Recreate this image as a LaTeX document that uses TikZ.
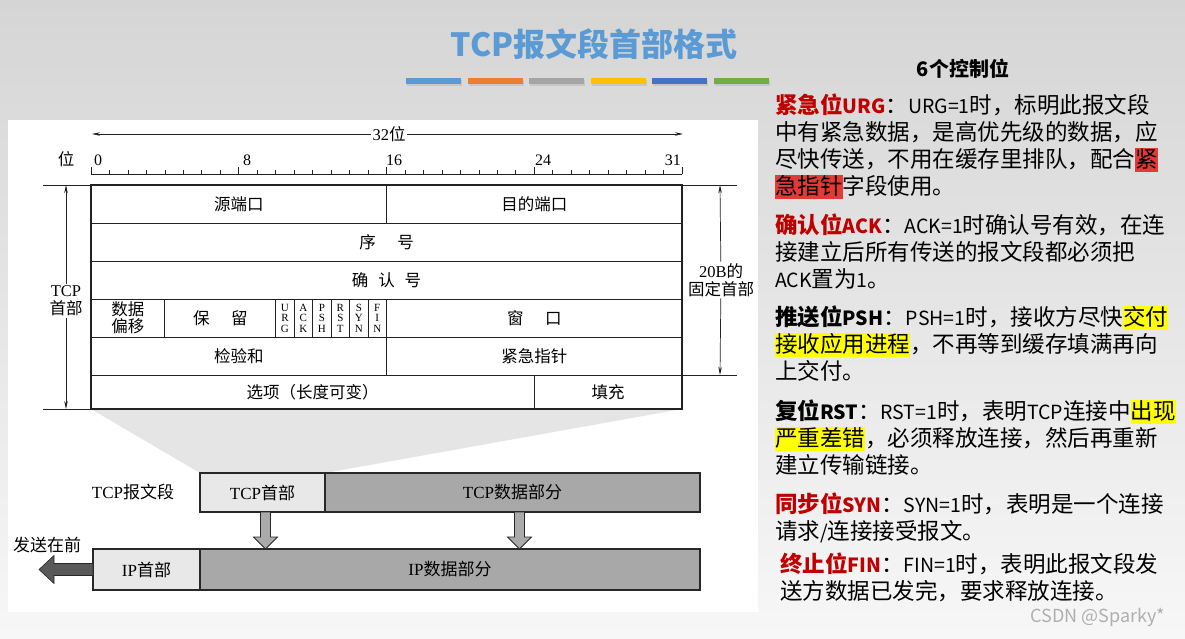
\documentclass[tikz,border=0pt]{standalone}
\usepackage{fontspec}
\setmainfont{Noto Sans CJK SC}
\newfontfamily\tms{Liberation Serif}
\usetikzlibrary{positioning, arrows.meta, calc}

\definecolor{bgtop}{RGB}{213,213,213}
\definecolor{bgbot}{RGB}{247,247,247}
\definecolor{titleblue}{RGB}{91,155,213}
\definecolor{bar1}{RGB}{91,155,213}
\definecolor{bar2}{RGB}{237,125,49}
\definecolor{bar3}{RGB}{165,165,165}
\definecolor{bar4}{RGB}{255,192,0}
\definecolor{bar5}{RGB}{68,114,196}
\definecolor{bar6}{RGB}{112,173,71}
\definecolor{tblline}{RGB}{34,34,34}
\definecolor{boxline}{RGB}{40,40,40}
\definecolor{hdrfill}{RGB}{232,232,232}
\definecolor{datafill}{RGB}{168,168,168}
\definecolor{zoomgray}{RGB}{229,229,229}
\definecolor{arrfill}{RGB}{170,170,170}
\definecolor{sendfill}{RGB}{89,89,89}
\definecolor{hdred}{RGB}{192,0,0}
\definecolor{hlredc}{RGB}{229,57,53}
\definecolor{hlyelc}{RGB}{255,255,0}
\definecolor{wmgray}{RGB}{175,175,175}

\def\bitw{18.47}
\newcommand\la[1]{{\fontsize{19.5}{27}\selectfont #1}}
\newcommand\redhd[1]{\textbf{\textcolor{hdred}{#1}}}
\newcommand\blkhd[1]{\textbf{#1}}
\newcommand\hlred[1]{{\setlength\fboxsep{0pt}\colorbox{hlredc}{\rule[-4.5pt]{0pt}{24pt}#1}}}
\newcommand\hlyel[1]{{\setlength\fboxsep{0pt}\colorbox{hlyelc}{\rule[-4.5pt]{0pt}{24pt}#1}}}

\begin{document}
\begin{tikzpicture}[x=1pt, y=-1pt,
  >={Stealth[length=8pt, width=3.5pt]},
  cell/.style={draw=tblline, line width=0.9pt, inner sep=0pt, outer sep=0pt,
               anchor=north west, minimum height=38pt, align=center,
               font=\fontsize{16.5}{17}\selectfont},
  flagcell/.style={cell, minimum width=\bitw pt, font=\tms\fontsize{11}{10.5}\selectfont},
  rnum/.style={anchor=base west, inner sep=0pt, font=\tms\fontsize{16}{16}\selectfont},
  dimlbl/.style={fill=white, inner sep=1.5pt, align=center,
                 font=\fontsize{16.5}{18}\selectfont},
  dimline/.style={->, line width=0.7pt, draw=tblline},
  extline/.style={line width=0.7pt, draw=tblline},
  pktbox/.style={draw=boxline, line width=1.4pt, inner sep=0pt, outer sep=0pt,
                 minimum height=39pt, font=\fontsize{17}{18}\selectfont},
  blockarr/.style={fill=arrfill, draw=boxline, line width=0.8pt},
  sendarr/.style={fill=sendfill, draw=boxline, line width=0.6pt},
  para/.style={anchor=north west, inner sep=0pt, align=left,
               font=\fontsize{22.5}{27}\selectfont},
]
\useasboundingbox (0,0) rectangle (1185,638);
% ---- background, panel, title ----
\shade[top color=bgtop, bottom color=bgbot] (0,0) rectangle (1185,638);
\fill[white] (8,120) rectangle (758,612);
\fill[zoomgray] (91,409) -- (682,409) -- (325,473) -- (200,473) -- cycle;
\node[text=titleblue, font=\fontsize{32}{36}\selectfont\bfseries] (title) at (594,44) {TCP报文段首部格式};
\foreach \c [count=\i from 0] in {bar1,bar2,bar3,bar4,bar5,bar6} {
  \fill[black!22] ({407+\i*61.6},79.5) rectangle ++(55,6);
  \fill[\c] ({406+\i*61.6},78) rectangle ++(55,6);
}
% ---- bit ruler ----
\node[dimlbl] (lenlbl) at (389,134) {{\tms 32}位};
\coordinate (lenl) at (92,134);
\coordinate (lenr) at (683,134);
\draw[dimline] (lenlbl) -- (lenl);
\draw[dimline] (lenlbl) -- (lenr);
\node[inner sep=0pt, font=\fontsize{16.5}{18}\selectfont] (bitlbl) at (66,159) {位};
\draw[extline] (91,174) -- (682,174);
\foreach \i in {0,...,32} \draw[extline] ({91+\i*\bitw},174) -- ++(0,-4);
\foreach \i in {0,8,16,24,32} \draw[extline] ({91+\i*\bitw},174) -- ++(0,-7);
\node[rnum] (b0) at (94,165) {0};
\node[rnum] (b8) at (243,165) {8};
\node[rnum] (b16) at (386,165) {16};
\node[rnum] (b24) at (535,165) {24};
\node[rnum, anchor=base east] (b31) at (681,165) {31};
% ---- header fields ----
\node[cell, minimum width=16*\bitw pt] (srcport) at (91,185) {源端口};
\node[cell, minimum width=16*\bitw pt, right=0pt of srcport] (dstport) {目的端口};
\node[cell, minimum width=32*\bitw pt] (seqno) at (91,223) {序\hspace{1.3em}号};
\node[cell, minimum width=32*\bitw pt] (ackno) at (91,261) {确\hspace{0.6em}认\hspace{0.6em}号};
\node[cell, minimum width=4*\bitw pt] (offset) at (91,299) {数据\\偏移};
\node[cell, minimum width=6*\bitw pt, right=0pt of offset] (rsv) {保\hspace{1.3em}留};
\foreach \f [count=\i] in {{U\\R\\G},{A\\C\\K},{P\\S\\H},{R\\S\\T},{S\\Y\\N},{F\\I\\N}}
  \node[flagcell] (flag\i) at ({91+(9+\i)*\bitw},299) {\f};
\node[cell, minimum width=16*\bitw pt, right=0pt of flag6] (window) {窗\hspace{1.3em}口};
\node[cell, minimum width=16*\bitw pt] (cksum) at (91,337) {检验和};
\node[cell, minimum width=16*\bitw pt, right=0pt of cksum] (urgptr) {紧急指针};
\node[cell, minimum width=24*\bitw pt, minimum height=34pt] (opts) at (91,375) {选项（长度可变）};
\node[cell, minimum width=8*\bitw pt, minimum height=34pt, right=0pt of opts] (pad) {填充};
\draw[line width=1.5pt, draw=tblline] (srcport.north west) rectangle (pad.south east);
% ---- size marks ----
\draw[extline] (srcport.north west) -- ++(-48,0);
\draw[extline] (opts.south west) -- ++(-48,0);
\node[dimlbl] (hdrlbl) at (66,301) {{\tms TCP}\\首部};
\coordinate (hdrt) at (66,185);
\coordinate (hdrb) at (66,409);
\draw[dimline] (hdrlbl) -- (hdrt);
\draw[dimline] (hdrlbl) -- (hdrb);
\draw[extline] (dstport.north east) -- ++(55,0);
\draw[extline] (urgptr.south east) -- ++(55,0);
\node[dimlbl] (fixlbl) at (721,280) {{\tms 20B}的\\固定首部};
\coordinate (fixt) at (720,185);
\coordinate (fixb) at (720,375);
\draw[dimline] (fixlbl) -- (fixt);
\draw[dimline] (fixlbl) -- (fixb);
% ---- TCP segment into IP datagram ----
\node[pktbox, fill=hdrfill, minimum width=125pt, anchor=north west] (tcph) at (200,473) {{\tms TCP}首部};
\node[pktbox, fill=datafill, minimum width=375pt, right=0pt of tcph] (tcpd) {{\tms TCP}数据部分};
\node[pktbox, fill=hdrfill, minimum width=107pt, minimum height=41pt, anchor=north west] (iph) at (93,549) {{\tms IP}首部};
\node[pktbox, fill=datafill, minimum width=500pt, minimum height=41pt, right=0pt of iph] (ipd) {{\tms IP}数据部分};
\node[font=\fontsize{17}{18}\selectfont] (seglbl) at (133,492) {{\tms TCP}报文段};
\node[font=\fontsize{17}{18}\selectfont] (sendlbl) at (47,545) {发送在前};
\coordinate (d1) at ($(tcph.south)+(3,0)$);
\coordinate (d2) at ($(tcpd.south)+(7,0)$);
\coordinate (t1) at (d1 |- ipd.north);
\coordinate (t2) at (d2 |- ipd.north);
\foreach \s/\t in {d1/t1,d2/t2}
  \draw[blockarr] ($(\s)+(-5,0)$) -- ($(\t)+(-5,-12)$) -- ($(\t)+(-12,-12)$) -- (\t)
    -- ($(\t)+(12,-12)$) -- ($(\t)+(5,-12)$) -- ($(\s)+(5,0)$) -- cycle;
\coordinate (sendtip) at ($(iph.west)+(-54,0)$);
\draw[sendarr] ($(iph.west)+(0,-6)$) -- ($(iph.west)+(-39,-6)$) -- ($(iph.west)+(-39,-14)$)
  -- (sendtip) -- ($(iph.west)+(-39,14)$) -- ($(iph.west)+(-39,6)$) -- ($(iph.west)+(0,6)$) -- cycle;
% ---- control bits ----
\node[font=\fontsize{20}{24}\selectfont\bfseries] (ctltitle) at (963,69) {6个控制位};
\node[para] (urg) at (775,94) {\redhd{紧急位\la{URG}}：\la{URG=1}时，标明此报文段\\
  中有紧急数据，是高优先级的数据，应\\
  尽快传送，不用在缓存里排队，配合\hlred{紧}\\
  \hlred{急指针}字段使用。};
\node[para] (ack) at (775,214) {\redhd{确认位\la{ACK}}：\la{ACK=1}时确认号有效，在连\\
  接建立后所有传送的报文段都必须把\\
  \la{ACK}置为\la{1}。};
\node[para] (psh) at (775,306) {\blkhd{推送位\la{PSH}}：\la{PSH=1}时，接收方尽快\hlyel{交付}\\
  \hlyel{接收应用进程}，不再等到缓存填满再向\\
  上交付。};
\node[para] (rst) at (775,400) {\blkhd{复位\la{RST}}：\la{RST=1}时，表明\la{TCP}连接中\hlyel{出现}\\
  \hlyel{严重差错}，必须释放连接，然后再重新\\
  建立传输链接。};
\node[para] (syn) at (775,493) {\redhd{同步位\la{SYN}}：\la{SYN=1}时，表明是一个连接\\
  请求\la{/}连接接受报文。};
\node[para] (fin) at (780,553) {\redhd{终止位\la{FIN}}：\la{FIN=1}时，表明此报文段发\\
  送方数据已发完，要求释放连接。};
\node[text=wmgray, font=\fontsize{18}{20}\selectfont] (wmark) at (1098,617) {CSDN @Sparky*};
\end{tikzpicture}
\end{document}
